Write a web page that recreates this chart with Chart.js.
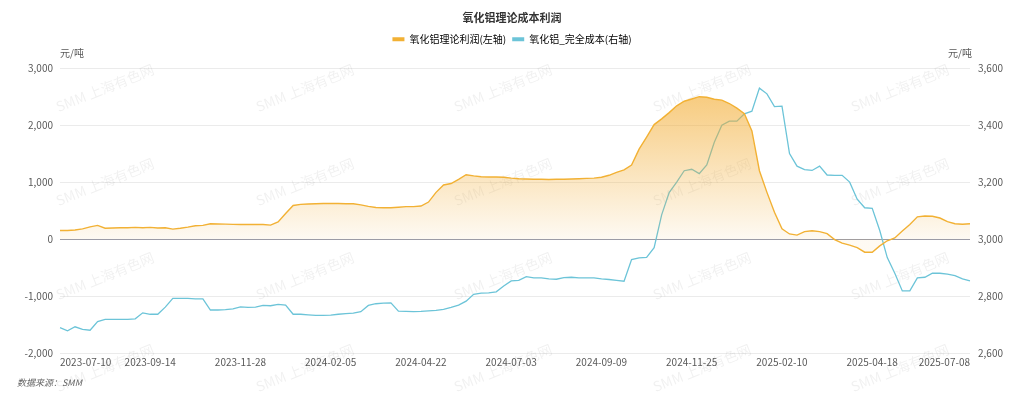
<!DOCTYPE html>
<html>
<head>
<meta charset="utf-8">
<title>氧化铝理论成本利润</title>
<script src="https://cdn.jsdelivr.net/npm/chart.js@4.4.1/dist/chart.umd.min.js"></script>
<style>
  html, body { margin: 0; padding: 0; background: #fff; }
  #wrap { width: 1024px; height: 399px; }
</style>
</head>
<body>
<div id="wrap"><canvas id="chart" width="1024" height="399"></canvas></div>
<script>
// Tick dates shown on the x axis, and the sample index each one sits at
const tickDates = ["2023-07-10", "2023-09-14", "2023-11-28", "2024-02-05", "2024-04-22",
  "2024-07-03", "2024-09-09", "2024-11-25", "2025-02-10", "2025-04-18", "2025-07-08"];
const tickIdx = [0, 12, 24, 36, 48, 60, 72, 84, 96, 108, 121];

// 氧化铝理论利润 (left axis, 元/吨)
const profit = [
  150, 150, 160, 180, 215, 240, 190, 195, 200, 200, 205, 200,
  205, 195, 200, 175, 190, 210, 235, 240, 270, 265, 262, 258,
  255, 255, 255, 255, 245, 300, 450, 590, 610, 615, 620, 625,
  625, 625, 620, 620, 600, 575, 555, 550, 550, 560, 570, 570,
  580, 650, 820, 950, 975, 1050, 1130, 1110, 1095, 1090, 1090, 1085,
  1070, 1060, 1055, 1050, 1050, 1045, 1050, 1050, 1055, 1060, 1065, 1070,
  1085, 1120, 1170, 1215, 1300, 1580, 1790, 2010, 2110, 2220, 2340, 2420,
  2460, 2500, 2490, 2455, 2440, 2380, 2300, 2200, 1900, 1200, 820, 470,
  180, 90, 70, 130, 145, 130, 95, -10, -70, -105, -150, -230,
  -230, -120, -30, 20, 140, 255, 390, 405, 400, 370, 305, 270,
  260, 270
];

// 氧化铝_完全成本 (right axis, 元/吨)
const fullCost = [
  2689, 2678, 2692, 2683, 2680, 2710, 2718, 2718, 2718, 2718, 2720, 2741,
  2736, 2736, 2761, 2792, 2792, 2792, 2790, 2790, 2751, 2751, 2752, 2755,
  2762, 2760, 2761, 2767, 2766, 2771, 2768, 2736, 2736, 2734, 2732, 2732,
  2733, 2736, 2738, 2740, 2745, 2767, 2773, 2775, 2776, 2747, 2746, 2745,
  2746, 2748, 2750, 2753, 2760, 2768, 2782, 2806, 2810, 2811, 2815, 2835,
  2853, 2855, 2868, 2864, 2864, 2860, 2859, 2865, 2866, 2864, 2864, 2864,
  2860, 2858, 2855, 2852, 2928, 2934, 2936, 2970, 3085, 3163, 3200, 3240,
  3245, 3230, 3260, 3340, 3400, 3414, 3414, 3440, 3449, 3530, 3510, 3465,
  3467, 3300, 3256, 3244, 3241, 3256, 3225, 3224, 3224, 3200, 3140, 3110,
  3108, 3030, 2935, 2880, 2818, 2818, 2864, 2866, 2880, 2880, 2877, 2872,
  2860, 2853
];

const ORANGE = "#F2B134";
const BLUE = "#6CC4D8";
const TEXT = "#595959";

Chart.defaults.font.family = '"Noto Sans CJK SC", "Noto Sans", sans-serif';
Chart.defaults.font.size = 10;
Chart.defaults.color = TEXT;

const labels = profit.map((_, i) => {
  const k = tickIdx.indexOf(i);
  return k >= 0 ? tickDates[k] : "";
});

function profitFill(ctx) {
  const chart = ctx.chart;
  if (!chart.chartArea) return "rgba(242,177,52,0.3)";
  const y = chart.scales.y;
  const top = y.getPixelForValue(Math.max(...profit));
  const bottom = y.getPixelForValue(0);
  const g = chart.ctx.createLinearGradient(0, top, 0, bottom);
  g.addColorStop(0, "rgba(242,172,50,0.62)");
  g.addColorStop(1, "rgba(242,172,50,0.06)");
  return g;
}

// faint "SMM 上海有色网" watermark, unit labels above the axes, source note
const decorations = {
  id: "decorations",
  beforeDatasetsDraw(chart) {
    const c = chart.ctx;
    c.save();
    c.font = '14px "Noto Sans CJK SC", sans-serif';
    c.fillStyle = "rgba(0,0,0,0.06)";
    c.textAlign = "center";
    c.textBaseline = "middle";
    [88, 182, 276, 368].forEach((y) => {
      [105, 305, 503, 702, 900].forEach((x) => {
        c.save();
        c.translate(x, y);
        c.rotate(-0.38);
        c.fillText("SMM 上海有色网", 0, 0);
        c.restore();
      });
    });
    c.restore();
  },
  afterDraw(chart) {
    const c = chart.ctx;
    const area = chart.chartArea;
    c.save();
    c.font = '10px "Noto Sans CJK SC", sans-serif';
    c.fillStyle = TEXT;
    c.textBaseline = "middle";
    c.textAlign = "left";
    c.fillText("元/吨", area.left, 53);
    c.textAlign = "right";
    c.fillText("元/吨", area.right + 2, 53);
    c.font = 'italic 9px "Noto Sans CJK SC", sans-serif';
    c.fillStyle = "#666";
    c.textAlign = "left";
    c.fillText("数据来源：SMM", 17, 383);
    c.restore();
  }
};

// leave room between legend and plot for the unit labels
const legendGap = {
  id: "legendGap",
  beforeInit(chart) {
    const fit = chart.legend.fit;
    chart.legend.fit = function () {
      fit.call(this);
      this.height = 40;
    };
  }
};

new Chart(document.getElementById("chart"), {
  type: "line",
  data: {
    labels: labels,
    datasets: [
      {
        label: "氧化铝理论利润(左轴)",
        data: profit,
        yAxisID: "y",
        borderColor: ORANGE,
        backgroundColor: profitFill,
        borderWidth: 1.4,
        fill: "origin",
        pointRadius: 0,
        tension: 0
      },
      {
        label: "氧化铝_完全成本(右轴)",
        data: fullCost,
        yAxisID: "y1",
        borderColor: BLUE,
        backgroundColor: BLUE,
        borderWidth: 1.3,
        fill: false,
        pointRadius: 0,
        tension: 0
      }
    ]
  },
  options: {
    responsive: false,
    animation: false,
    locale: "en-US",
    layout: { padding: { left: 0, right: 0, top: 0, bottom: 28 } },
    plugins: {
      title: {
        display: true,
        text: "氧化铝理论成本利润",
        color: "#333",
        font: { size: 11, weight: "bold" },
        padding: { top: 11, bottom: 4 }
      },
      legend: {
        labels: {
          boxWidth: 12,
          boxHeight: 4,
          padding: 6,
          color: TEXT,
          font: { size: 10 },
          generateLabels(chart) {
            return chart.data.datasets.map((ds, i) => ({
              text: ds.label,
              fillStyle: i === 0 ? ORANGE : BLUE,
              strokeStyle: i === 0 ? ORANGE : BLUE,
              lineWidth: 0,
              datasetIndex: i
            }));
          }
        }
      },
      tooltip: { enabled: false }
    },
    scales: {
      x: {
        grid: { display: false, drawTicks: false },
        border: { display: false },
        ticks: {
          autoSkip: false,
          maxRotation: 0,
          align: "inner",
          padding: 4,
          color: TEXT,
          font: { size: 10, lineHeight: 1 }
        }
      },
      y: {
        position: "left",
        min: -2000,
        max: 3000,
        afterFit(axis) { axis.width = 60; },
        border: { display: false },
        grid: {
          drawTicks: false,
          color: (ctx) => (ctx.tick && ctx.tick.value === 0 ? "#9c9ca6" : "#ebebeb"),
          lineWidth: 1
        },
        ticks: { stepSize: 1000, padding: 7, color: TEXT }
      },
      y1: {
        position: "right",
        min: 2600,
        max: 3600,
        afterFit(axis) { axis.width = 54; },
        border: { display: false },
        grid: { display: false, drawTicks: false },
        ticks: { stepSize: 200, padding: 8, color: TEXT }
      }
    }
  },
  plugins: [legendGap, decorations]
});
</script>
</body>
</html>
